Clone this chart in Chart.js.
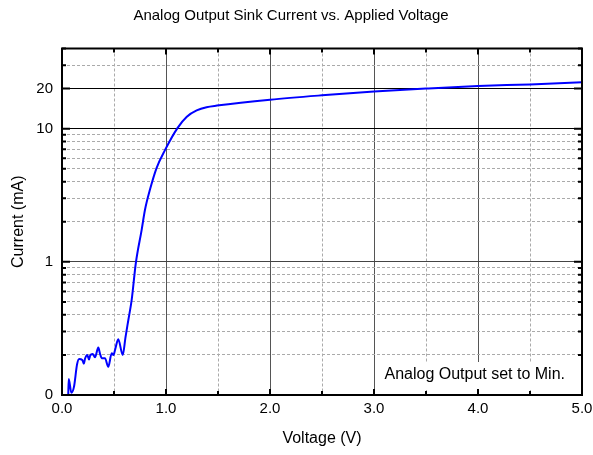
<!DOCTYPE html>
<html>
<head>
<meta charset="utf-8">
<script src="https://cdn.jsdelivr.net/npm/chart.js@4.4.1/dist/chart.umd.min.js"></script>
<style>
    html, body { margin: 0; padding: 0; background: #fff; }
    #wrap { width: 593px; height: 455px; }
</style>
</head>
<body>
<div id="wrap"><canvas id="chart" width="593" height="455"></canvas></div>
<script>
// ========== DATA ==========
const voltage = [
    0.06, 0.065, 0.09, 0.115, 0.145, 0.165, 0.195, 0.21, 0.222, 0.243,
    0.26, 0.27, 0.295, 0.317, 0.349, 0.365, 0.382, 0.413, 0.445, 0.478,
    0.495, 0.51, 0.541, 0.584, 0.61, 0.638, 0.67, 0.71, 0.766, 0.798,
    0.846, 0.91, 0.99, 1.11, 1.2, 1.295, 1.39, 1.49, 2.0, 2.5,
    3.0, 3.5, 4.0, 4.5, 5.0
];
const current = [
    0.10, 0.132, 0.104, 0.115, 0.17, 0.186, 0.183, 0.172, 0.188, 0.20,
    0.185, 0.197, 0.203, 0.192, 0.227, 0.205, 0.189, 0.189, 0.163, 0.206,
    0.20, 0.218, 0.262, 0.20, 0.27, 0.366, 0.518, 0.98, 1.74, 2.46,
    3.49, 5.08, 6.9, 10.1, 12.3, 13.7, 14.5, 14.9, 16.5, 17.8,
    19.0, 20.0, 20.9, 21.5, 22.3
];
const yTickValues = [0.1, 0.2, 0.3, 0.4, 0.5, 0.6, 0.7, 0.8, 0.9,
    1, 2, 3, 4, 5, 6, 7, 8, 9, 10, 20, 30, 40];
const yTickLabels = { 0.1: '0', 1: '1', 10: '10', 20: '20' };
const yMajor = [1, 10, 20];
const note = 'Analog Output set to Min.';

Chart.defaults.font.family = "'Liberation Sans', Arial, Helvetica, sans-serif";
Chart.defaults.color = '#000';

// frame, inward tick marks and the note box
const framePlugin = {
    id: 'frame',
    afterDatasetsDraw(chart) {
        const { ctx, chartArea: a, scales } = chart;
        ctx.save();

        // note with white background
        ctx.font = "16px 'Liberation Sans', Arial, sans-serif";
        const w = ctx.measureText(note).width;
        const right = a.right - 17;
        const base = a.bottom - 16;
        ctx.fillStyle = '#fff';
        ctx.fillRect(right - w - 5, base - 17, w + 10, 28);
        ctx.fillStyle = '#000';
        ctx.textAlign = 'right';
        ctx.textBaseline = 'alphabetic';
        ctx.fillText(note, right, base);

        ctx.strokeStyle = '#000';
        ctx.lineWidth = 2;
        ctx.beginPath();
        scales.x.ticks.forEach(t => {
            const px = scales.x.getPixelForValue(t.value);
            const len = Number.isInteger(t.value) ? 6 : 4;
            ctx.moveTo(px, a.top); ctx.lineTo(px, a.top + len);
            ctx.moveTo(px, a.bottom); ctx.lineTo(px, a.bottom - len);
        });
        scales.y.ticks.forEach(t => {
            const py = scales.y.getPixelForValue(t.value);
            const len = yMajor.includes(t.value) ? 8 : 4;
            ctx.moveTo(a.left, py); ctx.lineTo(a.left + len, py);
            ctx.moveTo(a.right, py); ctx.lineTo(a.right - len, py);
        });
        ctx.stroke();

        ctx.strokeRect(a.left, a.top, a.right - a.left, a.bottom - a.top);
        ctx.restore();
    }
};

new Chart(document.getElementById('chart'), {
    type: 'line',
    data: {
        datasets: [{
            data: voltage.map((v, i) => ({ x: v, y: current[i] })),
            borderColor: '#0000ff',
            borderWidth: 2,
            pointRadius: 0,
            fill: false,
            cubicInterpolationMode: 'monotone'
        }]
    },
    options: {
        responsive: false,
        animation: false,
        layout: { padding: { left: 0, right: 11, top: 0, bottom: 0 } },
        plugins: {
            legend: { display: false },
            tooltip: { enabled: false },
            title: {
                display: true,
                text: 'Analog Output Sink Current vs. Applied Voltage',
                font: { size: 15, weight: 'normal' },
                color: '#000',
                padding: { top: 7, bottom: 23.5 }
            }
        },
        scales: {
            x: {
                type: 'linear',
                min: 0,
                max: 5,
                afterFit: s => {
                    s.height = 60;
                    s.paddingLeft = 0;
                    s.paddingRight = 0;
                },
                ticks: {
                    stepSize: 0.5,
                    autoSkip: false,
                    maxRotation: 0,
                    padding: 5,
                    font: { size: 15 },
                    color: '#000',
                    callback: v => Number.isInteger(v) ? v.toFixed(1) : ''
                },
                grid: {
                    drawTicks: false,
                    lineWidth: 1,
                    color: c => Number.isInteger(c.tick.value) ? '#555' : '#aaa'
                },
                border: {
                    display: false,
                    dash: c => c.tick && Number.isInteger(c.tick.value) ? [] : [3, 2]
                },
                title: {
                    display: true,
                    text: 'Voltage (V)',
                    font: { size: 16 },
                    color: '#000',
                    padding: { top: 4, bottom: 6.5 }
                }
            },
            y: {
                type: 'logarithmic',
                min: 0.1,
                max: 40,
                afterFit: s => { s.width = 62; },
                afterBuildTicks: s => { s.ticks = yTickValues.map(v => ({ value: v })); },
                ticks: {
                    autoSkip: false,
                    padding: 9,
                    font: { size: 15 },
                    color: '#000',
                    callback: v => yTickLabels[v] !== undefined ? yTickLabels[v] : ''
                },
                grid: {
                    drawTicks: false,
                    lineWidth: 1,
                    color: c => {
                        const v = c.tick.value;
                        if (v === 10 || v === 20) return '#000';
                        if (v === 1) return '#444';
                        return '#aaa';
                    }
                },
                border: {
                    display: false,
                    dash: c => c.tick && yMajor.includes(c.tick.value) ? [] : [3, 2]
                },
                title: {
                    display: true,
                    text: 'Current (mA)',
                    font: { size: 16 },
                    color: '#000',
                    padding: { top: 9, bottom: 0 }
                }
            }
        }
    },
    plugins: [framePlugin]
});
</script>
</body>
</html>
